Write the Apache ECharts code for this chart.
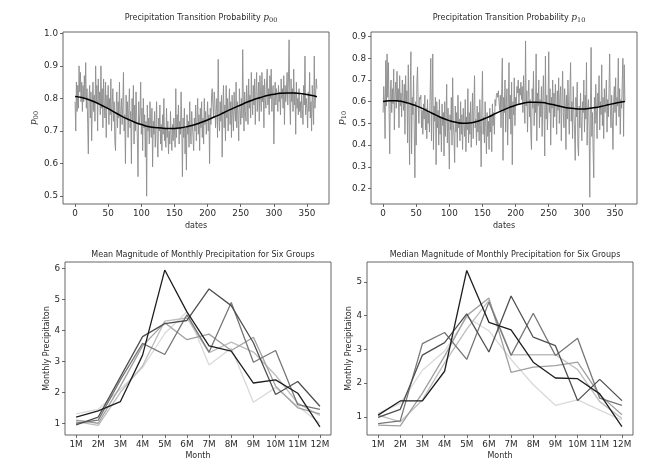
<!DOCTYPE html>
<html>
<head>
<meta charset="utf-8">
<script src="https://cdn.jsdelivr.net/npm/echarts@6/dist/echarts.min.js"></script>
<style>html,body{margin:0;padding:0;background:#fff}#c{width:671px;height:474px}</style>
</head>
<body>
<div id="c"></div>
<script>
// ---- data ----
const p00 = [
0.79,0.70,0.85,0.76,0.84,0.77,0.90,0.82,0.88,0.79,
0.85,0.76,0.84,0.79,0.87,0.80,0.91,0.77,0.83,0.72,
0.63,0.80,0.84,0.74,0.82,0.67,0.78,0.85,0.76,0.81,
0.73,0.90,0.79,0.84,0.70,0.86,0.78,0.82,0.75,0.90,
0.77,0.83,0.71,0.86,0.79,0.74,0.85,0.68,0.81,0.77,
0.84,0.72,0.80,0.75,0.86,0.70,0.78,0.83,0.73,0.79,
0.67,0.64,0.77,0.82,0.71,0.79,0.74,0.85,0.69,0.76,
0.80,0.72,0.78,0.88,0.70,0.75,0.60,0.81,0.74,0.79,
0.68,0.77,0.83,0.71,0.76,0.60,0.80,0.73,0.84,0.66,
0.78,0.70,0.82,0.74,0.68,0.56,0.79,0.72,0.75,0.85,
0.69,0.77,0.64,0.80,0.71,0.75,0.62,0.73,0.50,0.78,
0.70,0.74,0.66,0.79,0.72,0.68,0.77,0.59,0.73,0.69,
0.76,0.65,0.71,0.79,0.67,0.62,0.74,0.70,0.78,0.66,
0.72,0.64,0.75,0.69,0.80,0.67,0.71,0.65,0.77,0.68,
0.73,0.63,0.70,0.66,0.76,0.69,0.64,0.72,0.67,0.74,
0.70,0.65,0.83,0.68,0.75,0.71,0.78,0.66,0.73,0.69,
0.82,0.72,0.56,0.74,0.68,0.77,0.63,0.71,0.58,0.75,
0.69,0.73,0.65,0.79,0.70,0.66,0.76,0.72,0.68,0.64,
0.74,0.70,0.78,0.67,0.73,0.80,0.69,0.75,0.64,0.77,
0.71,0.79,0.68,0.74,0.66,0.80,0.72,0.76,0.69,0.73,
0.79,0.70,0.75,0.60,0.77,0.72,0.81,0.83,0.78,0.74,
0.82,0.79,0.71,0.76,0.80,0.68,0.92,0.75,0.70,0.79,
0.73,0.81,0.62,0.77,0.84,0.71,0.78,0.67,0.84,0.74,
0.80,0.70,0.77,0.83,0.72,0.79,0.68,0.81,0.75,0.70,
0.82,0.76,0.73,0.85,0.71,0.79,0.75,0.67,0.83,0.77,
0.72,0.80,0.74,0.95,0.78,0.70,0.82,0.76,0.73,0.84,
0.79,0.72,0.86,0.77,0.81,0.74,0.88,0.80,0.75,0.84,
0.78,0.86,0.72,0.82,0.88,0.76,0.80,0.85,0.73,0.87,
0.81,0.76,0.88,0.79,0.84,0.71,0.86,0.80,0.77,0.85,
0.89,0.78,0.83,0.75,0.87,0.80,0.89,0.76,0.82,0.84,
0.66,0.79,0.85,0.78,0.83,0.80,0.76,0.84,0.79,0.82,
0.75,0.86,0.80,0.83,0.77,0.87,0.72,0.84,0.79,0.82,
0.88,0.78,0.85,0.98,0.80,0.72,0.86,0.79,0.83,0.76,
0.89,0.78,0.82,0.69,0.85,0.77,0.80,0.75,0.83,0.76,
0.79,0.74,0.81,0.77,0.72,0.84,0.78,0.93,0.75,0.80,
0.77,0.71,0.82,0.76,0.88,0.74,0.79,0.70,0.84,0.78,
0.72,0.93,0.77,0.81,0.86,0.83];
const p10 = [
0.55,0.67,0.60,0.43,0.79,0.58,0.82,0.62,0.78,0.57,
0.36,0.64,0.70,0.55,0.66,0.59,0.75,0.47,0.63,0.69,
0.57,0.74,0.60,0.66,0.48,0.72,0.58,0.64,0.53,0.70,
0.61,0.56,0.68,0.45,0.72,0.59,0.65,0.41,0.77,0.55,
0.31,0.67,0.83,0.36,0.62,0.54,0.72,0.47,0.25,0.60,
0.40,0.69,0.76,0.58,0.50,0.62,0.61,0.63,0.48,0.56,
0.45,0.59,0.52,0.63,0.47,0.57,0.43,0.61,0.50,0.55,
0.46,0.64,0.80,0.42,0.60,0.82,0.38,0.58,0.51,0.62,
0.31,0.60,0.48,0.56,0.40,0.61,0.45,0.53,0.37,0.59,
0.49,0.55,0.35,0.60,0.44,0.52,0.68,0.41,0.57,0.46,
0.29,0.54,0.47,0.62,0.40,0.71,0.50,0.44,0.32,0.58,
0.46,0.55,0.39,0.63,0.48,0.52,0.42,0.60,0.45,0.54,
0.38,0.57,0.49,0.44,0.61,0.37,0.53,0.47,0.66,0.41,
0.55,0.45,0.60,0.39,0.51,0.64,0.43,0.56,0.72,0.48,
0.52,0.40,0.58,0.46,0.55,0.42,0.61,0.49,0.30,0.57,
0.74,0.45,0.53,0.41,0.60,0.48,0.36,0.55,0.44,0.51,
0.38,0.57,0.46,0.53,0.37,0.59,0.49,0.55,0.45,0.61,
0.58,0.63,0.64,0.62,0.65,0.60,0.56,0.63,0.48,0.66,
0.80,0.33,0.62,0.55,0.70,0.46,0.59,0.66,0.40,0.57,
0.78,0.52,0.63,0.45,0.69,0.31,0.60,0.54,0.71,0.49,
0.62,0.58,0.67,0.64,0.70,0.59,0.66,0.63,0.69,0.61,
0.67,0.55,0.72,0.60,0.50,0.88,0.58,0.65,0.46,0.62,
0.70,0.53,0.61,0.45,0.38,0.66,0.57,0.74,0.49,0.60,
0.55,0.82,0.42,0.64,0.58,0.70,0.48,0.61,0.53,0.67,
0.44,0.60,0.72,0.56,0.35,0.81,0.52,0.63,0.47,0.58,
0.83,0.55,0.66,0.40,0.62,0.57,0.70,0.48,0.64,0.53,
0.68,0.59,0.45,0.65,0.56,0.71,0.50,0.62,0.67,0.42,
0.60,0.74,0.55,0.48,0.66,0.58,0.38,0.63,0.52,0.70,
0.57,0.45,0.64,0.78,0.51,0.60,0.43,0.67,0.55,0.47,
0.33,0.62,0.53,0.69,0.40,0.35,0.58,0.48,0.64,0.51,
0.42,0.60,0.55,0.70,0.46,0.63,0.52,0.78,0.40,0.57,
0.61,0.48,0.16,0.59,0.85,0.44,0.55,0.38,0.25,0.62,
0.50,0.68,0.56,0.43,0.64,0.58,0.72,0.47,0.60,0.54,
0.77,0.49,0.62,0.43,0.66,0.55,0.59,0.70,0.46,0.61,
0.53,0.65,0.82,0.57,0.48,0.63,0.52,0.38,0.60,0.67,
0.55,0.71,0.49,0.62,0.58,0.80,0.53,0.66,0.45,0.61,
0.57,0.69,0.80,0.44,0.77,0.60];

const smoothDays = [0,10,20,30,40,50,60,70,80,90,100,110,120,130,140,150,160,170,180,190,200,210,220,230,240,250,260,270,280,290,300,310,320,330,340,350,360,365];
const p00Smooth = [0.806,0.803,0.797,0.789,0.779,0.769,0.757,0.746,0.736,0.727,0.720,0.714,0.711,0.709,0.708,0.708,0.710,0.714,0.719,0.726,0.734,0.743,0.752,0.762,0.771,0.780,0.789,0.797,0.803,0.809,0.813,0.816,0.817,0.817,0.815,0.812,0.808,0.805];
const p10Smooth = [0.601,0.604,0.604,0.600,0.592,0.581,0.568,0.553,0.538,0.524,0.513,0.505,0.501,0.502,0.508,0.518,0.531,0.546,0.560,0.573,0.584,0.592,0.597,0.598,0.596,0.591,0.584,0.577,0.571,0.568,0.567,0.569,0.573,0.579,0.586,0.593,0.599,0.601];

const dayTicks = [0,50,100,150,200,250,300,350];
const p00Ticks = [0.5,0.6,0.7,0.8,0.9,1.0];
const p10Ticks = [0.2,0.3,0.4,0.5,0.6,0.7,0.8,0.9];

const months = ['1M','2M','3M','4M','5M','6M','7M','8M','9M','10M','11M','12M'];
const mean1 = [1.2,1.4,1.7,3.2,5.95,4.6,3.5,3.33,2.3,2.4,1.97,0.88];
const mean2 = [0.95,1.2,2.5,3.8,4.22,4.32,5.34,4.8,3.6,1.93,2.35,1.55];
const mean3 = [1.0,1.1,2.4,3.58,3.22,4.5,3.3,4.9,2.97,3.35,1.6,1.45];
const mean4 = [1.1,1.0,2.2,3.5,4.25,3.7,3.88,3.35,3.78,2.2,1.5,1.3];
const mean5 = [1.05,0.93,2.0,2.85,4.3,4.4,3.28,3.62,3.3,2.55,1.65,1.25];
const mean6 = [1.3,1.45,2.1,2.8,3.9,4.6,2.88,3.43,1.68,2.15,1.55,1.0];
const med1 = [1.05,1.47,1.47,2.35,5.34,3.8,3.58,2.62,2.15,2.13,1.68,0.71];
const med2 = [0.98,1.22,2.83,3.2,4.05,2.92,4.58,3.36,3.11,1.48,2.11,1.48];
const med3 = [0.8,0.88,3.17,3.5,2.7,4.4,2.82,4.07,2.82,3.33,1.55,1.34];
const med4 = [0.75,0.73,1.7,2.8,4.0,4.52,2.32,2.47,2.52,2.62,1.65,1.06];
const med5 = [1.05,0.85,1.5,2.6,3.6,4.45,2.84,2.84,2.84,2.4,1.45,0.95];
const med6 = [1.1,1.4,2.38,2.95,3.95,3.55,2.7,1.95,1.34,1.5,1.2,0.9];
const meanTicks = [1,2,3,4,5,6];
const medTicks = [1,2,3,4,5];

const groupColors = ['#1e1e1e','#505050','#777777','#a0a0a0','#bdbdbd','#d9d9d9'];

// ---- chart ----
const FONT = 'DejaVu Sans';
const TXT = '#2a2a2a';
const chart = echarts.init(document.getElementById('c'), null, {renderer:'canvas'});

const richMath = {
  a: {fontFamily: FONT, fontSize: 8, fontWeight: 'normal', color: TXT, lineHeight: 12, verticalAlign: 'middle'},
  p: {fontFamily: 'DejaVu Serif', fontStyle: 'italic', fontWeight: 'normal', fontSize: 9, color: TXT, lineHeight: 12, verticalAlign: 'middle'},
  s: {fontFamily: 'DejaVu Serif', fontWeight: 'normal', fontSize: 6.5, color: TXT, lineHeight: 7, verticalAlign: 'bottom'}
};

function grid(left, top, width, height) {
  return {left, top, width, height, show: true, borderColor: '#555', borderWidth: 0.9, backgroundColor: 'transparent'};
}
const tickFont = {fontFamily: FONT, fontSize: 8.8, color: TXT, margin: 5};
const nameFont = {fontFamily: FONT, fontSize: 8, color: TXT};
function valAxis(gi, min, max, ticks, extra) {
  return Object.assign({
    type: 'value', gridIndex: gi, min, max, scale: true,
    axisLine: {show: false, onZero: false},
    axisTick: {show: true, length: 3, inside: false, customValues: ticks, lineStyle: {color: '#444', width: 0.8}},
    axisLabel: Object.assign({customValues: ticks}, tickFont),
    splitLine: {show: false}
  }, extra || {});
}
function catAxis(gi) {
  return {type: 'category', gridIndex: gi, data: months, boundaryGap: true,
    axisLine: {show: false, onZero: false},
    axisTick: {show: true, alignWithLabel: true, length: 3, lineStyle: {color: '#444', width: 0.8}},
    axisLabel: Object.assign({interval: 0}, tickFont),
    name: 'Month', nameLocation: 'middle', nameGap: 17, nameTextStyle: nameFont};
}

const option = {
  animation: false,
  backgroundColor: '#fff',
  title: [
    {text: '{a|Precipitation Transition Probability }{p|p}{s|00}', left: 196, top: 7, textAlign: 'center', textStyle: {fontWeight: 'normal', rich: richMath}},
    {text: '{a|Precipitation Transition Probability }{p|p}{s|10}', left: 504, top: 7, textAlign: 'center', textStyle: {fontWeight: 'normal', rich: richMath}},
    {text: 'Mean Magnitude of Monthly Precipitation for Six Groups', left: 198, top: 246, textAlign: 'center', textStyle: {fontFamily: FONT, fontSize: 8, fontWeight: 'normal', color: TXT}},
    {text: 'Median Magnitude of Monthly Precipitation for Six Groups', left: 500, top: 246, textAlign: 'center', textStyle: {fontFamily: FONT, fontSize: 8, fontWeight: 'normal', color: TXT}}
  ],
  grid: [grid(63, 32, 266, 172), grid(371, 32, 266, 172), grid(65, 262, 266, 173), grid(367, 262, 266, 173)],
  xAxis: [
    valAxis(0, -18.25, 383.25, dayTicks, {name: 'dates', nameLocation: 'middle', nameGap: 18, nameTextStyle: nameFont}),
    valAxis(1, -18.25, 383.25, dayTicks, {name: 'dates', nameLocation: 'middle', nameGap: 18, nameTextStyle: nameFont}),
    catAxis(2),
    catAxis(3)
  ],
  yAxis: [
    valAxis(0, 0.476, 1.004, p00Ticks, {name: '{p|p}{s|00}', nameLocation: 'middle', nameRotate: 90, nameGap: 22, nameTextStyle: {rich: richMath}, axisLabel: Object.assign({customValues: p00Ticks, formatter: v => v.toFixed(1)}, tickFont)}),
    valAxis(1, 0.129, 0.921, p10Ticks, {name: '{p|p}{s|10}', nameLocation: 'middle', nameRotate: 90, nameGap: 22, nameTextStyle: {rich: richMath}, axisLabel: Object.assign({customValues: p10Ticks, formatter: v => v.toFixed(1)}, tickFont)}),
    valAxis(2, 0.62, 6.21, meanTicks, {name: 'Monthly Precipitaiton', nameLocation: 'middle', nameGap: 13, nameTextStyle: nameFont}),
    valAxis(3, 0.46, 5.59, medTicks, {name: 'Monthly Precipitaiton', nameLocation: 'middle', nameGap: 13, nameTextStyle: nameFont})
  ],
  series: []
};

function lineSeries(gi, data, color, width, smooth, z) {
  return {type: 'line', xAxisIndex: gi, yAxisIndex: gi, data, showSymbol: false, symbol: 'none', smooth: smooth || false,
    lineStyle: {color, width}, z: z || 2, silent: true};
}
option.series.push(lineSeries(0, p00.map((v, i) => [i, v]), '#8c8c8c', 0.9));
option.series.push(lineSeries(0, smoothDays.map((d, i) => [d, p00Smooth[i]]), '#000', 1.5, true, 5));
option.series.push(lineSeries(1, p10.map((v, i) => [i, v]), '#8c8c8c', 0.9));
option.series.push(lineSeries(1, smoothDays.map((d, i) => [d, p10Smooth[i]]), '#000', 1.5, true, 5));

const meanSets = [mean1, mean2, mean3, mean4, mean5, mean6];
const medSets = [med1, med2, med3, med4, med5, med6];
for (let k = 5; k >= 0; k--) {
  option.series.push(lineSeries(2, meanSets[k], groupColors[k], 1.3, false, 10 - k));
  option.series.push(lineSeries(3, medSets[k], groupColors[k], 1.3, false, 10 - k));
}

chart.setOption(option);
</script>
</body>
</html>
